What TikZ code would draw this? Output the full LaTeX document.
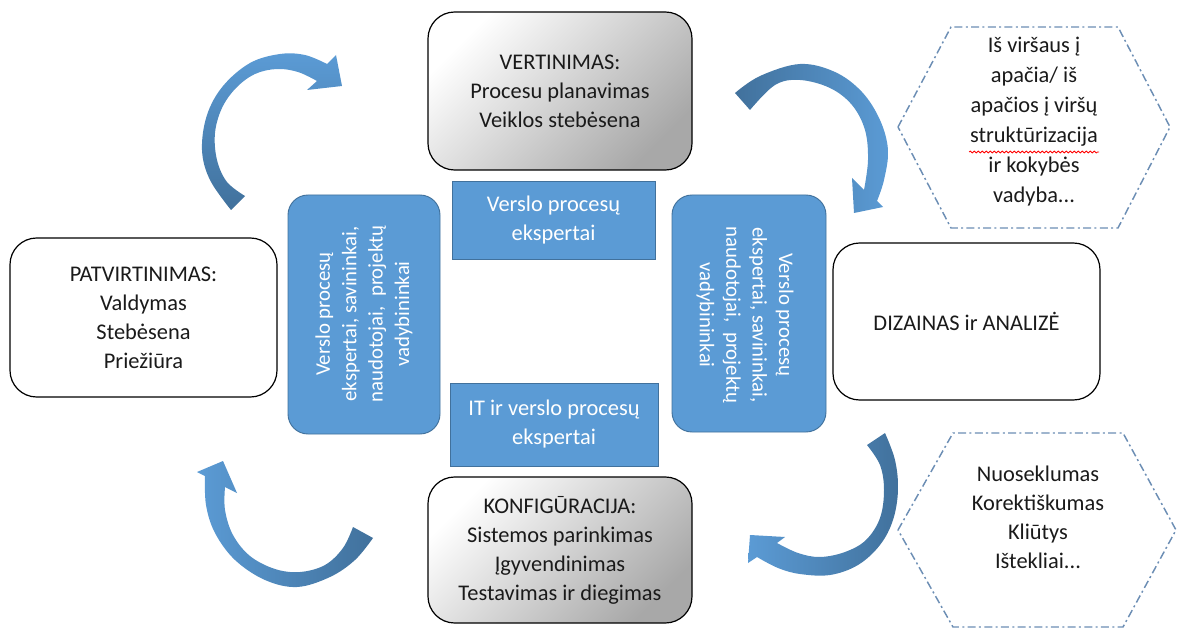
\documentclass[tikz,border=0pt]{standalone}
\usepackage{fontspec}
\setmainfont{Carlito}
\usetikzlibrary{decorations.pathmorphing}
\definecolor{blueL}{HTML}{5B9BD5}
\definecolor{blueD}{HTML}{41719C}
\definecolor{hexc}{HTML}{6C8EB4}
\definecolor{txt}{HTML}{1A1A1A}
\begin{document}
\begin{tikzpicture}[x=0.75pt, y=-0.75pt,
  font=\fontsize{16.8}{21.75}\selectfont,
  every node/.style={text=txt},
  whitebox/.style={draw=black, line width=0.9pt, rounded corners=20pt, fill=white, align=center, inner sep=0pt},
  graybox/.style={draw=black, line width=0.9pt, rounded corners=20pt, top color=white, bottom color=black!34, shading angle=45, align=center, inner sep=0pt},
  bluebox/.style={draw=blueD, line width=0.7pt, fill=blueL, align=center, inner sep=0pt, text=white},
  bluetext/.style={text=white, align=center, font=\fontsize{15.6}{19.8}\selectfont, inner sep=0pt},
  hexline/.style={draw=hexc, line width=1.1pt, dash pattern=on 6pt off 2.5pt on 1.5pt off 2.5pt},
  hextext/.style={align=center, font=\fontsize{16.8}{22.5}\selectfont, inner sep=0pt},
  arrowfill/.style={draw=none}
]
\useasboundingbox (0,0) rectangle (1183,631);

% white / gray process boxes
\node[graybox, minimum width=198pt, minimum height=118.5pt] (vert) at (560,91)
  {VERTINIMAS:\\Procesu planavimas\\Veiklos stebėsena};
\node[whitebox, minimum width=200.25pt, minimum height=119.25pt] (patv) at (143.5,317.5)
  {PATVIRTINIMAS:\\Valdymas\\Stebėsena\\Priežiūra};
\node[whitebox, minimum width=200.25pt, minimum height=117.75pt] (diz) at (966.5,321.5)
  {DIZAINAS ir ANALIZĖ};
\node[graybox, minimum width=198pt, minimum height=109.5pt] (konf) at (560,550)
  {KONFIGŪRACIJA:\\Sistemos parinkimas\\Įgyvendinimas\\Testavimas ir diegimas};

% blue boxes
\node[bluebox, rounded corners=15pt, minimum width=114pt, minimum height=179.25pt] (lb) at (364,314.5) {};
\node[bluetext, rotate=90] (lbt) at (364,314) {Verslo procesų\\ekspertai, savininkai,\\naudotojai,~ projektų\\vadybininkai};
\node[bluebox, rounded corners=15pt, minimum width=115.5pt, minimum height=177.75pt] (rb) at (749,313.5) {};
\node[bluetext, rotate=-90] (rbt) at (745,315) {Verslo procesų\\ekspertai, savininkai,\\naudotojai,~ projektų\\vadybininkai};
\node[bluebox, minimum width=152.25pt, minimum height=58.5pt] (tb) at (553.5,220)
  {Verslo procesų\\ekspertai};
\node[bluebox, minimum width=156pt, minimum height=62.25pt] (bb) at (554,424.5)
  {IT ir verslo procesų\\ekspertai};

% hexagons
\draw[hexline] (898,127) -- (951,27) -- (1118,27) -- (1170,127) -- (1118,228) -- (951,228) -- cycle;
\node[hextext] (h1t) at (1034,122)
  {Iš viršaus į\\apačia/ iš\\apačios į viršų\\struktūrizacija\\ir kokybės\\vadyba...};
\draw[red, line width=0.6pt, decorate, decoration={snake, amplitude=0.7pt, segment length=3pt}] (969,152) -- (1099,152);

\draw[hexline] (898,530) -- (953,433) -- (1123,433) -- (1176,530) -- (1123,627) -- (953,627) -- cycle;
\node[hextext, font=\fontsize{16.8}{21.75}\selectfont] (h2t) at (1038,517)
  {Nuoseklumas\\Korektiškumas\\Kliūtys\\Ištekliai...};

% curved arrows
% top-left
\path[arrowfill, top color=blueL, bottom color=blueD]
  (231,210) -- plot[smooth, tension=0.6] coordinates {(231,210) (210,180) (202,150) (207,115) (223,86) (250,63) (280,54) (305,55) (327,64)}
  -- (336,55) -- (342,86) -- (307,90) -- (317,81)
  -- plot[smooth, tension=0.6] coordinates {(317,81) (298,72) (277,69) (255,74) (236,88) (222,108) (215,133) (217,160) (227,182) (245,196)}
  -- cycle;
% top-right
\path[arrowfill, left color=blueD, right color=blueL]
  (735,93) -- plot[smooth, tension=0.6] coordinates {(735,93) (760,76) (800,64) (835,72) (862,92) (880,120) (888,150) (884,180) (877,201)}
  -- (883,207) -- (854,213) -- (852,178) -- (864,190)
  -- plot[smooth, tension=0.6] coordinates {(864,190) (868,160) (865,130) (852,105) (830,88) (800,80) (775,85) (750,110)}
  -- cycle;
% bottom-left
\path[arrowfill, left color=blueL, right color=blueD]
  (373,538) -- plot[smooth, tension=0.6] coordinates {(373,538) (355,560) (330,577) (297,587) (265,580) (235,560) (215,533) (206,505) (205,476)}
  -- (197,472) -- (223,461) -- (237,493) -- (225,487)
  -- plot[smooth, tension=0.6] coordinates {(225,487) (225,510) (233,535) (250,556) (275,569) (300,572) (325,565) (343,548) (353,527)}
  -- cycle;
% bottom-right
\path[arrowfill, left color=blueL, right color=blueD]
  (885,433) -- plot[smooth, tension=0.6] coordinates {(885,433) (895,460) (898,490) (893,520) (880,545) (858,565) (830,575) (800,574) (778,568) (757,557)}
  -- (748,563) -- (750,535) -- (785,537) -- (777,543)
  -- plot[smooth, tension=0.6] coordinates {(777,543) (798,553) (820,557) (845,552) (866,540) (880,518) (884,490) (880,465) (867,445)}
  -- cycle;
\end{tikzpicture}
\end{document}
